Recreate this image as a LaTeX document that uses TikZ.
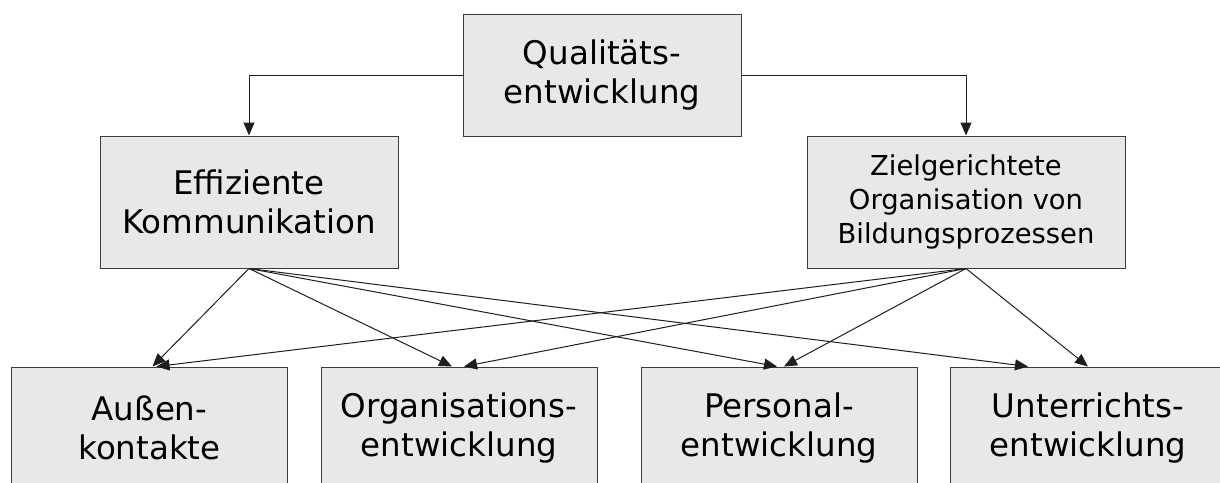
\documentclass[tikz,border=0pt]{standalone}
\usepackage{fontspec}
\setmainfont{DejaVu Sans}
\definecolor{boxgray}{RGB}{232, 232, 232}
\definecolor{framegray}{RGB}{60, 60, 60}
\definecolor{linegray}{RGB}{30, 30, 30}
\usepackage{tikz}
\usetikzlibrary{arrows.meta, positioning}

\tikzset{
  box/.style={draw=framegray, fill=boxgray, line width=0.5pt, inner sep=0pt, align=center,
    font=\fontsize{16.25}{19.5}\selectfont},
  smallbox/.style={box, font=\fontsize{13.7}{16.8}\selectfont},
  pfeil/.style={draw=linegray, line width=0.5pt, -{Triangle[length=6.5pt, width=5.5pt]}}
}

\begin{document}
\begin{tikzpicture}[x=0.5pt, y=-0.5pt]
  \clip (0, 0) rectangle (1220, 482);

  % top
  \node[box, minimum width=139pt, minimum height=61pt] (qual) at (602, 75) {Qualitäts-\\entwicklung};

  % middle row
  \node[box, minimum width=149pt, minimum height=66pt] (eff) at (249, 202) {Effiziente\\Kommunikation};
  \node[smallbox, minimum width=159pt, minimum height=66pt] (bild) at (966, 202) {Zielgerichtete\\Organisation von\\Bildungsprozessen};

  % bottom row
  \node[box, minimum width=138pt, minimum height=61pt] (aussen) at (149.5, 428) {Außen-\\kontakte};
  \node[box, minimum width=138pt, minimum height=61pt] (org) at (459, 428) {Organisations-\\entwicklung};
  \node[box, minimum width=138pt, minimum height=61pt] (pers) at (779, 428) {Personal-\\entwicklung};
  \node[box, minimum width=138pt, minimum height=61pt] (unt) at (1088, 428) {Unterrichts-\\entwicklung};

  % top connectors
  \draw[pfeil] (qual.west) -| (eff.north);
  \draw[pfeil] (qual.east) -| (bild.north);

  % from Effiziente Kommunikation
  \draw[pfeil] (eff.south) -- ([xshift=1.5pt]aussen.north);
  \draw[pfeil] (eff.south) -- ([xshift=-3.5pt]org.north);
  \draw[pfeil] (eff.south) -- ([xshift=-1pt]pers.north);
  \draw[pfeil] (eff.south) -- ([xshift=-30pt]unt.north);

  % from Zielgerichtete Organisation
  \draw[pfeil] (bild.south) -- ([xshift=3.5pt]aussen.north);
  \draw[pfeil] (bild.south) -- ([xshift=2.5pt]org.north);
  \draw[pfeil] (bild.south) -- ([xshift=2.5pt]pers.north);
  \draw[pfeil] (bild.south) -- (unt.north);
\end{tikzpicture}
\end{document}
